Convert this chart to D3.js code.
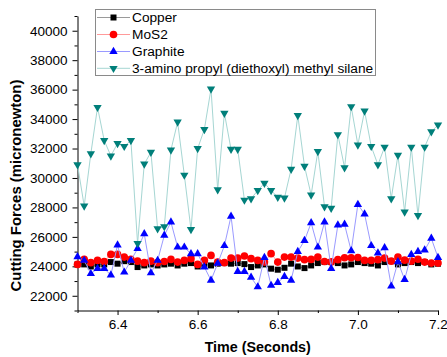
<!DOCTYPE html>
<html>
<head>
<meta charset="utf-8">
<script src="https://cdn.jsdelivr.net/npm/d3@7"></script>
<style>
  html, body { margin: 0; padding: 0; background: #fff; }
  svg { display: block; font-family: "Liberation Sans", Arial, sans-serif; }
</style>
</head>
<body>
<svg id="chart" width="447" height="357"></svg>
<script>
// ---- data ----
const times = [6.3, 6.3167, 6.3333, 6.35, 6.3667, 6.3833, 6.4, 6.4167, 6.4333, 6.45, 6.4667, 6.4833,
  6.5, 6.5167, 6.5333, 6.55, 6.5667, 6.5833, 6.6, 6.6167, 6.6333, 6.65, 6.6667, 6.6833,
  6.7, 6.7167, 6.7333, 6.75, 6.7667, 6.7833, 6.8, 6.8167, 6.8333, 6.85, 6.8667, 6.8833,
  6.9, 6.9167, 6.9333, 6.95, 6.9667, 6.9833, 7.0, 7.0167, 7.0333, 7.05, 7.0667, 7.0833,
  7.1, 7.1167, 7.1333, 7.15, 7.1667, 7.1833, 7.2];

const copper = [24130, 24130, 23990, 24130, 24130, 24290, 24180, 24350, 24290, 23950, 24060, 24130,
  24060, 24130, 24180, 24060, 24180, 24220, 23990, 24130, 24060, 24180, 24220, 24180,
  24220, 24150, 23950, 24060, 24130, 23840, 23770, 23900, 24180, 23990, 23880, 24060,
  24220, 24290, 24290, 24220, 24060, 24130, 24290, 24220, 24180, 24060, 24290, 24350,
  24130, 24220, 24290, 24220, 24290, 24130, 24180];

const mos2 = [24130, 24470, 24250, 24400, 24330, 24810, 24810, 24630, 24470, 24350, 24250, 24350,
  24250, 24330, 24470, 24290, 24400, 24520, 24130, 24400, 24740, 24290, 24250, 24560,
  24560, 24700, 24520, 24400, 24290, 24860, 24290, 24630, 24630, 24560, 24450, 24470,
  24630, 24330, 24300, 24450, 24580, 24580, 24600, 24400, 24400, 24450, 24560, 24350,
  24630, 24420, 24350, 24480, 24290, 24220, 24220];

const graphite = [24650, 24400, 23500, 23850, 23850, 23400, 25450, 23600, 24400, 25200, 26200, 23550,
  24400, 26100, 27000, 25300, 25300, 24850, 24850, 23950, 23050, 24200, 25400, 27400,
  23650, 23650, 23250, 22600, 24600, 22700, 22900, 23300, 23050, 25000, 25750, 26950,
  25300, 27000, 23850, 26800, 26850, 25050, 28200, 27550, 25400, 24900, 25250, 22650,
  24300, 23100, 24800, 25000, 25100, 25900, 24600];

const silane = [30900, 28100, 31650, 34800, 32550, 31500, 32350, 32150, 32550, 25550, 30950, 31750,
  26550, 26700, 31900, 33800, 30200, 26500, 32000, 33300, 36050, 29200, 34400, 31950,
  31950, 28500, 28600, 29150, 29650, 29150, 28700, 28650, 30600, 34250, 30800, 28850,
  31800, 28050, 27950, 32950, 30700, 34850, 32250, 34550, 32150, 30900, 32100, 28600,
  31550, 27700, 32100, 27450, 32100, 33150, 33600];

const seriesNames = ["Copper", "MoS2", "Graphite", "3-amino propyl (diethoxyl) methyl silane"];
const xMajorTicks = [6.4, 6.6, 6.8, 7.0, 7.2];
const xMinorTicks = [6.3, 6.5, 6.7, 6.9, 7.1];
const yMajorTicks = [22000, 24000, 26000, 28000, 30000, 32000, 34000, 36000, 38000, 40000];
const yMinorTicks = [21000, 23000, 25000, 27000, 29000, 31000, 33000, 35000, 37000, 39000, 41000];
const xTitle = "Time (Seconds)";
const yTitle = "Cutting Forces (micronewton)";

// ---- layout ----
const svg = d3.select("#chart");
const mLeft = 77.5, mRight = 438, mTop = 16, mBottom = 310.5;
const x = d3.scaleLinear().domain([6.3, 7.2]).range([mLeft, mRight]);
const y = d3.scaleLinear().domain([21000, 41000]).range([mBottom, mTop]);

const styles = [
  { vals: copper,   line: "#9a9a9a", fill: "#000000", sym: d3.symbolSquare,   size: 36, rot: 0 },
  { vals: mos2,     line: "#ff9a9a", fill: "#ff0000", sym: d3.symbolCircle,   size: 46, rot: 0 },
  { vals: graphite, line: "#9a9aff", fill: "#0000ff", sym: d3.symbolTriangle, size: 30, rot: 0 },
  { vals: silane,   line: "#a6d6d3", fill: "#007f7a", sym: d3.symbolTriangle, size: 30, rot: 180 }
];

// ---- axes ----
const fmt = d3.format(".1f");
const gx = svg.append("g").attr("transform", `translate(0,${mBottom})`);
gx.call(d3.axisBottom(x).tickValues(xMajorTicks).tickFormat(fmt).tickSize(4.5).tickPadding(5).tickSizeOuter(0));
const gxm = svg.append("g").attr("transform", `translate(0,${mBottom})`);
gxm.call(d3.axisBottom(x).tickValues(xMinorTicks).tickFormat("").tickSize(2.5).tickSizeOuter(0));
gxm.select(".domain").remove();

const gy = svg.append("g").attr("transform", `translate(${mLeft},0)`);
gy.call(d3.axisLeft(y).tickValues(yMajorTicks).tickFormat(d3.format("d")).tickSize(5).tickPadding(5).tickSizeOuter(0));
const gym = svg.append("g").attr("transform", `translate(${mLeft},0)`);
gym.call(d3.axisLeft(y).tickValues(yMinorTicks).tickFormat("").tickSize(3).tickSizeOuter(0));
gym.select(".domain").remove();

svg.selectAll(".tick text").attr("font-size", "13.5px").attr("fill", "#000")
   .attr("font-family", '"Liberation Sans", Arial, sans-serif');
svg.selectAll(".domain, .tick line").attr("stroke", "#000").attr("stroke-width", 1);
gx.selectAll(".tick text").attr("dy", "0.71em").attr("y", 8.5);

svg.append("text").attr("x", (mLeft + mRight) / 2).attr("y", 352)
  .attr("text-anchor", "middle").attr("font-weight", "bold").attr("font-size", "14.3px")
  .text(xTitle);
svg.append("text").attr("transform", `translate(20.5,185.5) rotate(-90)`)
  .attr("text-anchor", "middle").attr("font-weight", "bold").attr("font-size", "14.9px")
  .text(yTitle);

// ---- series ----
const line = d3.line().x((d, i) => x(times[i])).y(d => y(d));
styles.forEach(s => {
  const g = svg.append("g");
  g.append("path").datum(s.vals).attr("d", line)
    .attr("fill", "none").attr("stroke", s.line).attr("stroke-width", 1);
  g.selectAll("path.m").data(s.vals).join("path").attr("class", "m")
    .attr("d", d3.symbol().type(s.sym).size(s.size))
    .attr("transform", (d, i) => `translate(${x(times[i])},${y(d)}) rotate(${s.rot})`)
    .attr("fill", s.fill);
});

// ---- legend ----
const lg = svg.append("g");
lg.append("rect").attr("x", 95.5).attr("y", 9.5).attr("width", 280).attr("height", 66)
  .attr("fill", "#fff").attr("stroke", "#8a8a8a").attr("stroke-width", 1);
const rowY = [17.5, 34.5, 51.5, 68.3];
styles.forEach((s, k) => {
  const yy = rowY[k];
  lg.append("line").attr("x1", 97).attr("x2", 130).attr("y1", yy).attr("y2", yy)
    .attr("stroke", s.line).attr("stroke-width", 1);
  lg.append("path").attr("d", d3.symbol().type(s.sym).size(s.size)())
    .attr("transform", `translate(113.5,${yy}) rotate(${s.rot})`).attr("fill", s.fill);
  lg.append("text").attr("x", 132).attr("y", yy).attr("dy", "0.36em")
    .attr("font-size", "13.7px").attr("fill", "#000").text(seriesNames[k]);
});
</script>
</body>
</html>
